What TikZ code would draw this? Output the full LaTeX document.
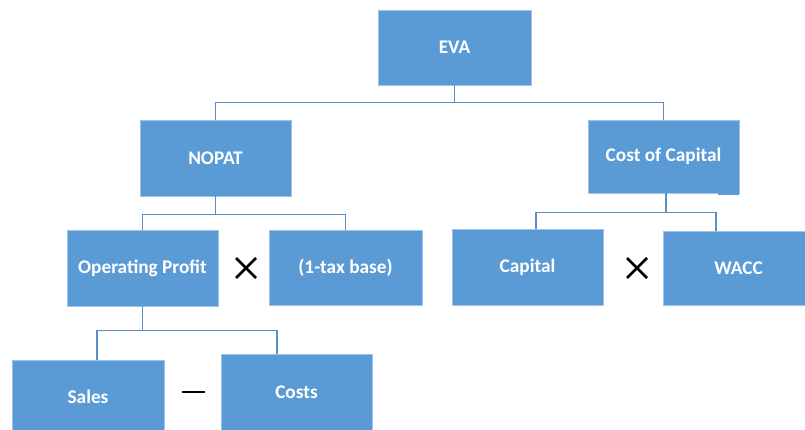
\documentclass[tikz,border=0pt]{standalone}
\usepackage{fontspec}
\setmainfont{Carlito}
\definecolor{boxfill}{HTML}{5B9BD5}
\definecolor{boxedge}{HTML}{9DC3E6}
\definecolor{linecol}{HTML}{5B8FC7}
\tikzset{
  box/.style={rectangle, fill=boxfill, draw=boxedge, line width=0.8pt, inner sep=0pt,
    text=white, font=\fontsize{19.3}{21}\selectfont\bfseries},
  conn/.style={draw=linecol, line width=1.6pt},
  opsym/.style={line width=2.8pt, black}
}
\begin{document}
\begin{tikzpicture}[x=1pt,y=-1pt]
\useasboundingbox (0,0) rectangle (805,430);
\clip (0,0) rectangle (805,430);
\node[box, minimum width=153, minimum height=75] (eva) at (454.5,47.5) {EVA};
\node[box, minimum width=151, minimum height=76] (nopat) at (215.5,158) {NOPAT};
\node[box, minimum width=151, minimum height=73] (coc) at (663.5,156.5) {Cost of Capital};
\fill[boxfill] (718,190) rectangle (739,195.5);
\node[box, minimum width=151, minimum height=76] (op) at (142.5,268) {Operating Profit};
\node[box, minimum width=153, minimum height=75] (tax) at (345.5,267.5) {(1-tax base)};
\node[box, minimum width=151, minimum height=76] (cap) at (527.5,267) {Capital};
\node[box, minimum width=151, minimum height=74] (wacc) at (738.5,268) {WACC};
\node[box, minimum width=152, minimum height=74] (sales) at (88,397) {Sales};
\node[box, minimum width=151, minimum height=76] (costs) at (296.5,392) {Costs};

\draw[conn] (eva.south) -- ++(0,17) coordinate (j1);
\draw[conn] (j1) -| (nopat.north);
\draw[conn] (j1) -| (coc.north);
\draw[conn] (nopat.south) -- ++(0,18) coordinate (j2);
\draw[conn] (j2) -| (op.north);
\draw[conn] (j2) -| (tax.north);
\draw[conn] ([xshift=2.5]coc.south) -- ++(0,19) coordinate (j3);
\draw[conn] (j3) -| ([xshift=8.5]cap.north);
\draw[conn] (j3) -| ([xshift=-22.5]wacc.north);
\draw[conn] (op.south) -- ++(0,24) coordinate (j4);
\draw[conn] (j4) -| ([xshift=9]sales.north);
\draw[conn] (j4) -| ([xshift=-19.5]costs.north);

\draw[opsym] (236,258) -- (256,278) (236,278) -- (256,258);
\draw[opsym] (627,258) -- (647,278) (627,278) -- (647,258);
\draw[opsym] (182,392) -- (205,392);
\end{tikzpicture}
\end{document}
